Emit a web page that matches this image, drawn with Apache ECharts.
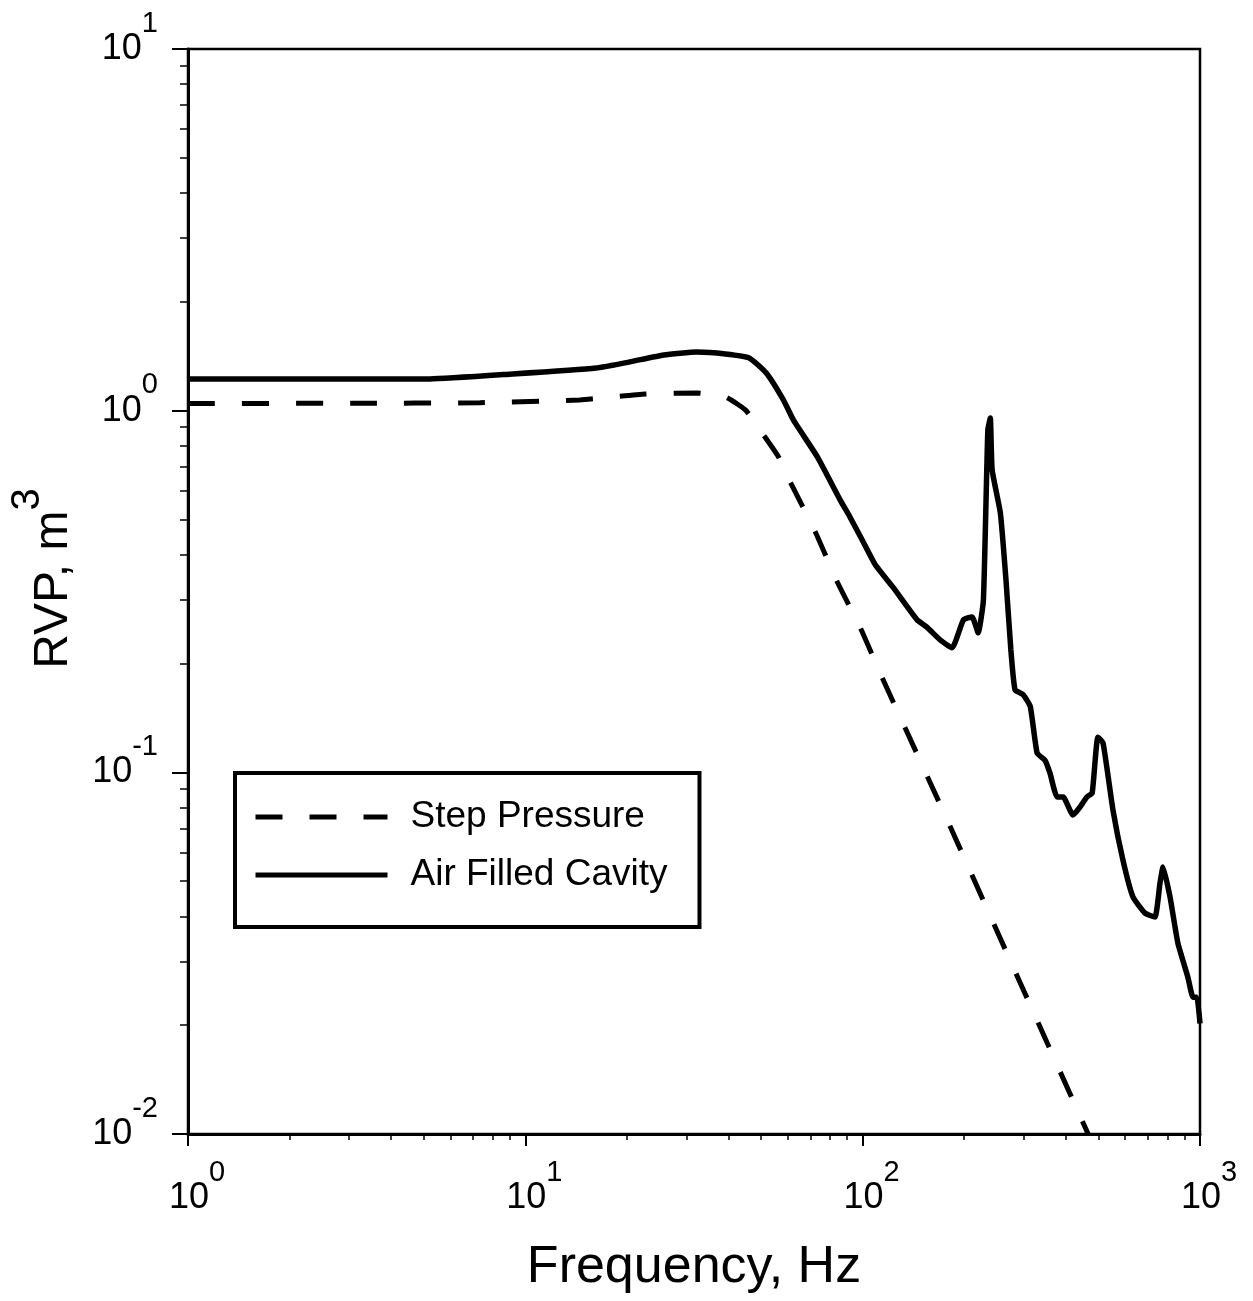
<!DOCTYPE html>
<html><head><meta charset="utf-8">
<script src="https://cdn.jsdelivr.net/npm/echarts@6/dist/echarts.min.js"></script>
<style>html,body{margin:0;padding:0;background:#fff;} #chart{width:1253px;height:1301px;}</style>
</head><body><div id="chart"></div>
<script>
// Air Filled Cavity (solid)
const freqCavity = [1, 2.16, 5.21, 9.17, 16.2, 20.4, 25.7, 32.2, 39.2, 46.1, 51.8, 58.2, 62.3, 73.4, 85.8, 91.5, 99.7, 109, 123, 145, 155, 170, 184, 199, 211, 220, 228, 235, 239, 242, 256, 266, 275, 283, 299, 314, 329, 347, 359, 377, 393, 420, 441, 462, 479, 498, 516, 552, 591, 633, 687, 735, 761, 777, 815, 860, 921, 953, 979, 1000];
const rvpCavity = [1.224, 1.224, 1.224, 1.263, 1.312, 1.364, 1.426, 1.453, 1.435, 1.399, 1.271, 1.071, 0.943, 0.745, 0.566, 0.51, 0.439, 0.375, 0.325, 0.264, 0.252, 0.232, 0.221, 0.264, 0.269, 0.243, 0.300, 0.884, 0.954, 0.686, 0.521, 0.340, 0.218, 0.169, 0.164, 0.152, 0.113, 0.108, 0.0996, 0.0855, 0.0855, 0.0762, 0.0802, 0.0855, 0.0877, 0.125, 0.1205, 0.0787, 0.0572, 0.0452, 0.0408, 0.0398, 0.0494, 0.0547, 0.0452, 0.0337, 0.0271, 0.0239, 0.0239, 0.0202];
// Step Pressure (dashed)
const freqStep = [1, 3.04, 7.33, 14.5, 22.7, 32.4, 39.2, 44.9, 50.8, 56.3, 61.0, 72.4, 84.1, 98.4, 114, 182, 293, 466];
const rvpStep = [1.047, 1.048, 1.052, 1.071, 1.112, 1.119, 1.091, 1.005, 0.857, 0.745, 0.635, 0.462, 0.336, 0.251, 0.1835, 0.0706, 0.0262, 0.01];

const seriesNames = ['Step Pressure', 'Air Filled Cavity'];
const xMajorTicks = [1, 10, 100, 1000];
const yMajorTicks = [0.01, 0.1, 1, 10];
const xMinorTicks = [2,3,4,5,6,7,8,9,20,30,40,50,60,70,80,90,200,300,400,500,600,700,800,900];
const yMinorTicks = [0.02,0.03,0.04,0.05,0.06,0.07,0.08,0.09,0.2,0.3,0.4,0.5,0.6,0.7,0.8,0.9,2,3,4,5,6,7,8,9];

const FONT = '"Liberation Sans", Arial, Helvetica, sans-serif';

function powLabel(v) {
  const e = Math.round(Math.log10(v));
  return '{b|10}{s|' + e + '}';
}
const labelRich = {
  b: { fontSize: 36, lineHeight: 80, verticalAlign: 'middle', fontFamily: FONT, color: '#000' },
  s: { fontSize: 29, lineHeight: 29, verticalAlign: 'top', fontFamily: FONT, color: '#000' }
};

const cavData = freqCavity.map((f, i) => [f, rvpCavity[i]]);
const stepData = freqStep.map((f, i) => [f, rvpStep[i]]);

const chart = echarts.init(document.getElementById('chart'), null, { renderer: 'canvas' });
chart.setOption({
  animation: false,
  backgroundColor: '#fff',
  grid: { left: 187, right: 53, top: 49, bottom: 167, show: true, borderColor: '#000', borderWidth: 2.5, backgroundColor: 'transparent' },
  legend: {
    orient: 'vertical', left: 235, top: 773, data: seriesNames,
    itemWidth: 132, itemHeight: 40, itemGap: 18,
    padding: [24, 32, 32, 18],
    borderColor: '#000', borderWidth: 4, backgroundColor: '#fff',
    itemStyle: { opacity: 0 },
    lineStyle: { width: 5, color: '#000', type: 'inherit' },
    textStyle: { fontSize: 37, fontFamily: FONT, color: '#000', padding: [0, 0, 0, 18], lineHeight: 40 }
  },
  xAxis: [
    {
      type: 'log', logBase: 10, min: 1, max: 1000, position: 'bottom', gridIndex: 0,
      axisLine: { show: true, lineStyle: { color: '#000', width: 3 } },
      axisTick: { show: true, inside: false, length: 12, lineStyle: { color: '#000', width: 2 }, customValues: xMajorTicks },
      axisLabel: { customValues: xMajorTicks, formatter: powLabel, rich: labelRich, margin: 24, padding: [0, 0, 0, 18] },
      splitLine: { show: false }, minorTick: { show: false },
      name: 'Frequency, Hz', nameLocation: 'middle', nameGap: 108,
      nameTextStyle: { fontSize: 52, fontFamily: FONT, color: '#000' }
    },
    {
      type: 'log', logBase: 10, min: 1, max: 1000, position: 'bottom', gridIndex: 0,
      axisLine: { show: false },
      axisTick: { show: true, inside: false, length: 6, lineStyle: { color: '#000', width: 1.5 }, customValues: xMinorTicks },
      axisLabel: { show: false }, splitLine: { show: false }
    }
  ],
  yAxis: [
    {
      type: 'log', logBase: 10, min: 0.01, max: 10, position: 'left', gridIndex: 0,
      axisLine: { show: true, lineStyle: { color: '#000', width: 3 } },
      axisTick: { show: true, inside: false, length: 16, lineStyle: { color: '#000', width: 2 }, customValues: yMajorTicks },
      axisLabel: { customValues: yMajorTicks, formatter: powLabel, rich: labelRich, margin: 30 },
      splitLine: { show: false }, minorTick: { show: false },
      name: '{b|RVP, m}{s|3}', nameLocation: 'middle', nameRotate: 90, nameGap: 88,
      nameTextStyle: {
        padding: [0, 0, 0, 26],
        rich: {
          b: { fontSize: 48, lineHeight: 92, verticalAlign: 'middle', fontFamily: FONT, color: '#000' },
          s: { fontSize: 40, lineHeight: 40, verticalAlign: 'top', fontFamily: FONT, color: '#000' }
        }
      }
    },
    {
      type: 'log', logBase: 10, min: 0.01, max: 10, position: 'left', gridIndex: 0,
      axisLine: { show: false },
      axisTick: { show: true, inside: false, length: 8, lineStyle: { color: '#000', width: 1.5 }, customValues: yMinorTicks },
      axisLabel: { show: false }, splitLine: { show: false }
    }
  ],
  series: [
    {
      name: seriesNames[0], type: 'line', data: stepData, symbol: 'none', xAxisIndex: 0, yAxisIndex: 0,
      lineStyle: { color: '#000', width: 5, type: [27, 27] }, itemStyle: { color: '#000' }, clip: true, smooth: 0.15
    },
    {
      name: seriesNames[1], type: 'line', data: cavData, symbol: 'none', xAxisIndex: 0, yAxisIndex: 0,
      lineStyle: { color: '#000', width: 5.5 }, itemStyle: { color: '#000' }, clip: true, smooth: 0.15
    }
  ]
});
</script>
</body></html>
